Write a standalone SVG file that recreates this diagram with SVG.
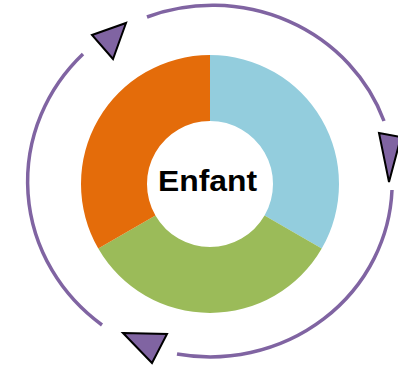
<svg xmlns="http://www.w3.org/2000/svg" width="398" height="367" viewBox="0 0 398 367">
  <style>
    .arc { fill: none; stroke: #8064A2; stroke-width: 3.5; }
    .head { fill: #8064A2; stroke: #000; stroke-width: 2; stroke-linejoin: miter; }
    .label { font-family: "Liberation Sans", Arial, sans-serif; font-weight: bold; font-size: 29px; fill: #000; }
  </style>
  <rect width="398" height="367" fill="#fff"/>
  <g id="donut">
    <path id="seg-blue" d="M210,55 A129,129 0 0 1 321.72,248.5 L264.56,215.5 A63,63 0 0 0 210,121 Z" fill="#93CDDD"/>
    <path id="seg-green" d="M321.72,248.5 A129,129 0 0 1 98.28,248.5 L155.44,215.5 A63,63 0 0 0 264.56,215.5 Z" fill="#9BBB59"/>
    <path id="seg-orange" d="M98.28,248.5 A129,129 0 0 1 210,55 L210,121 A63,63 0 0 0 155.44,215.5 Z" fill="#E46C0A"/>
  </g>
  <g id="center-label">
    <text class="label" x="207.5" y="191" text-anchor="middle" textLength="99" lengthAdjust="spacingAndGlyphs">Enfant</text>
  </g>
  <g id="connectors">
    <path class="arc" d="M147,17 A182,174 0 0 1 384,121"/>
    <path class="arc" d="M392,190 A182,174 0 0 1 177,354"/>
    <path class="arc" d="M102,325 A188,180 0 0 1 83,54"/>
    <polygon class="head" points="92,35 126,23 113,59"/>
    <polygon class="head" points="379,133 401,137 389,182"/>
    <polygon class="head" points="123,333 167,334 152,363"/>
  </g>
</svg>
